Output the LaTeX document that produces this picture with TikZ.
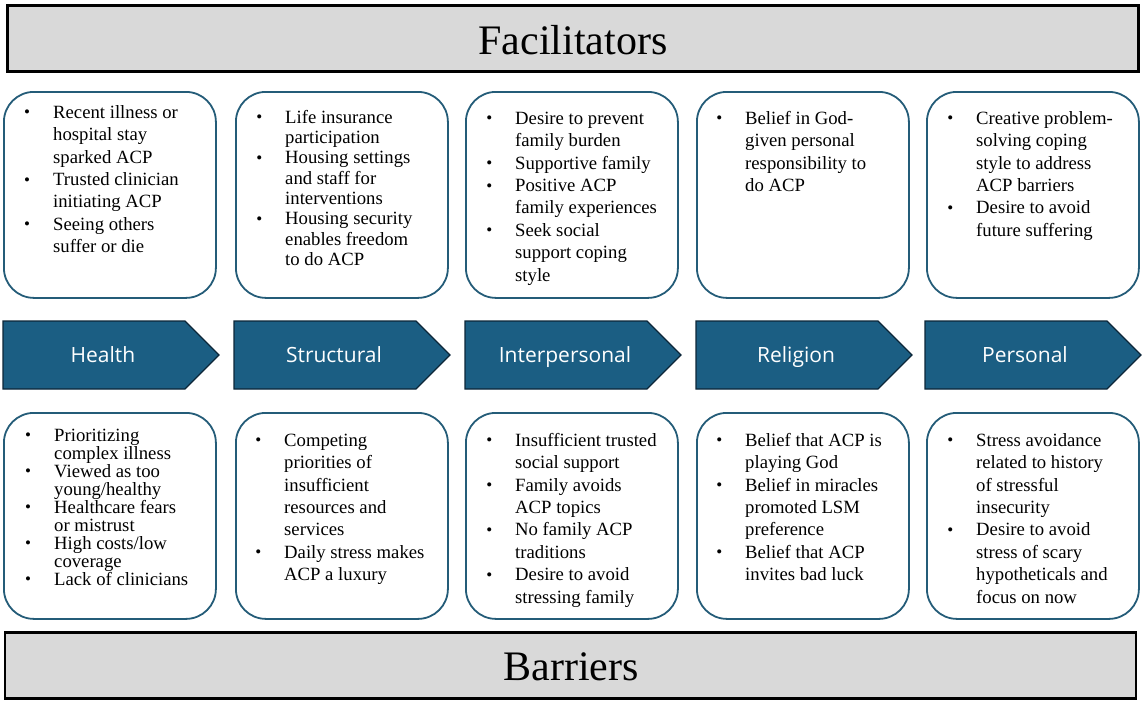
\documentclass[tikz,border=0pt]{standalone}
\usepackage{fontspec}
\setmainfont{Liberation Serif}
\newfontfamily\chevfont{Open Sans}
\definecolor{chevfill}{RGB}{27,94,131}
\definecolor{chevline}{RGB}{12,38,56}
\definecolor{boxline}{RGB}{36,92,120}
\definecolor{bargray}{RGB}{217,217,217}
\newcommand\bi{\leavevmode\llap{\raisebox{0.3pt}{\fontsize{17}{17}\selectfont\textbullet}\hspace{23pt}}}
\newcommand\fl{\rule{0pt}{15pt}}
\tikzset{
  bar/.style={draw=black, line width=2.2pt, fill=bargray, minimum width=1131pt, minimum height=66pt, inner sep=0pt, font=\fontsize{42}{42}\selectfont},
  roundbox/.style={draw=boxline, line width=1.8pt, rounded corners=30pt, fill=white, minimum width=212pt, minimum height=206pt, anchor=north west, inner sep=0pt},
  chevshape/.style={draw=chevline, line width=1.2pt, fill=chevfill},
  chevtext/.style={text=white, font=\chevfont\fontsize{21}{21}\selectfont, inner sep=0pt, anchor=base},
  txt/.style={anchor=north west, align=left, inner sep=0pt, font=\fontsize{18.7}{22.4}\selectfont},
  txtS/.style={txt, font=\fontsize{18.7}{20.3}\selectfont},
  txtT/.style={txt, font=\fontsize{18.7}{18}\selectfont},
}
\begin{document}
\begin{tikzpicture}[x=1pt,y=-1pt]
\useasboundingbox (0,0) rectangle (1144,704);
% title bars
\node[bar] (fac) at (573,38.5) {};
\node (factext) at (573,40) {\fontsize{42}{42}\selectfont Facilitators};
\node[bar] (bar) at (570.5,665.5) {};
\node (bartext) at (571,667) {\fontsize{42}{42}\selectfont Barriers};
% top boxes
\node[roundbox] (ht) at (3,91) {};
\node[roundbox] (st) at (235,91) {};
\node[roundbox] (it) at (465,91) {};
\node[roundbox] (rt) at (696,91) {};
\node[roundbox] (pt) at (926,91) {};
% bottom boxes
\node[roundbox] (hb) at (3,412) {};
\node[roundbox] (sb) at (235,412) {};
\node[roundbox] (ib) at (465,412) {};
\node[roundbox] (rb) at (696,412) {};
\node[roundbox] (pb) at (926,412) {};
% chevrons
\foreach \l/\n/\t in {3/health/Health, 234/structural/Structural, 465/interpersonal/Interpersonal, 696/religion/Religion, 925/personal/Personal}{
  \path[chevshape] (\l,321) -- ({\l+182},321) -- ({\l+216},355) -- ({\l+182},389) -- (\l,389) -- cycle;
  \node[chevtext] (\n) at ({\l+100},362.5) {\t};
}
% top texts
\node[txt] (htt) at (53,103) {\fl\bi Recent illness or\\hospital stay\\sparked ACP\\\bi Trusted clinician\\initiating ACP\\\bi Seeing others\\suffer or die};
\node[txtS] (stt) at (285,108) {\fl\bi Life insurance\\participation\\\bi Housing settings\\and staff for\\interventions\\\bi Housing security\\enables freedom\\to do ACP};
\node[txt] (itt) at (515,109) {\fl\bi Desire to prevent\\family burden\\\bi Supportive family\\\bi Positive ACP\\family experiences\\\bi Seek social\\support coping\\style};
\node[txt] (rtt) at (745,109) {\fl\bi Belief in God-\\given personal\\responsibility to\\do ACP};
\node[txt] (ptt) at (976,109) {\fl\bi Creative problem-\\solving coping\\style to address\\ACP barriers\\\bi Desire to avoid\\future suffering};
% bottom texts
\node[txtT] (hbt) at (54,426) {\fl\bi Prioritizing\\complex illness\\\bi Viewed as too\\young/healthy\\\bi Healthcare fears\\or mistrust\\\bi High costs/low\\coverage\\\bi Lack of clinicians};
\node[txt] (sbt) at (284,431) {\fl\bi Competing\\priorities of\\insufficient\\resources and\\services\\\bi Daily stress makes\\ACP a luxury};
\node[txt] (ibt) at (515,431) {\fl\bi Insufficient trusted\\social support\\\bi Family avoids\\ACP topics\\\bi No family ACP\\traditions\\\bi Desire to avoid\\stressing family};
\node[txt] (rbt) at (745,431) {\fl\bi Belief that ACP is\\playing God\\\bi Belief in miracles\\promoted LSM\\preference\\\bi Belief that ACP\\invites bad luck};
\node[txt] (pbt) at (976,431) {\fl\bi Stress avoidance\\related to history\\of stressful\\insecurity\\\bi Desire to avoid\\stress of scary\\hypotheticals and\\focus on now};
\end{tikzpicture}
\end{document}
